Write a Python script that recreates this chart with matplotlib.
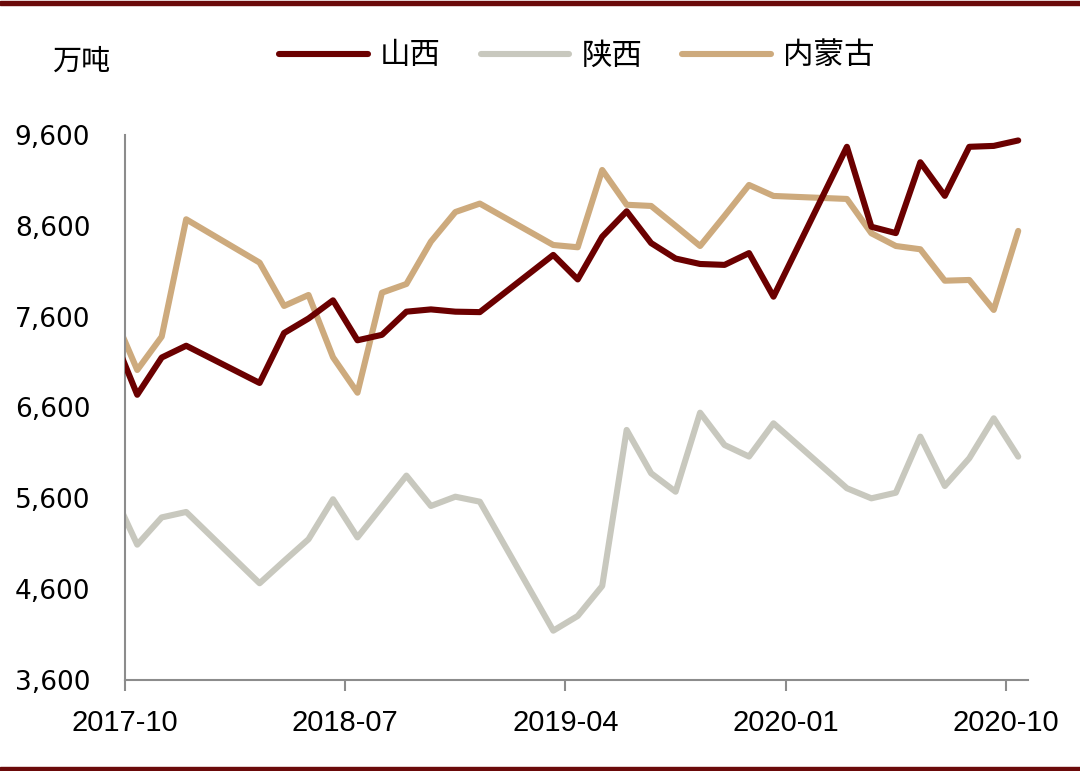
import matplotlib
matplotlib.use("Agg")
import matplotlib.pyplot as plt
from matplotlib.patches import Rectangle

plt.rcParams['font.family'] = ['Noto Sans CJK SC', 'DejaVu Sans']

# monthly data (Jan/Feb not published); first point sits just left of the axis
months = ['2017-09', '2017-10', '2017-11', '2017-12',
          '2018-03', '2018-04', '2018-05', '2018-06', '2018-07', '2018-08',
          '2018-09', '2018-10', '2018-11', '2018-12',
          '2019-03', '2019-04', '2019-05', '2019-06', '2019-07', '2019-08',
          '2019-09', '2019-10', '2019-11', '2019-12',
          '2020-03', '2020-04', '2020-05', '2020-06', '2020-07', '2020-08',
          '2020-09', '2020-10']

shanxi = [7400, 6740, 7150, 7280,
          6870, 7420, 7580, 7780, 7340, 7400, 7655, 7680, 7655, 7650,
          8280, 8010, 8480, 8760, 8410, 8240, 8180, 8170, 8300, 7820,
          9470, 8590, 8520, 9300, 8930, 9470, 9480, 9540]

shaanxi = [5670, 5090, 5390, 5450,
           4665, 4910, 5150, 5590, 5170, 5510, 5850, 5516, 5618, 5563,
           4143, 4305, 4635, 6353, 5876, 5673, 6543, 6187, 6060, 6426,
           5711, 5600, 5662, 6279, 5736, 6041, 6481, 6059]

neimenggu = [7640, 7013, 7380, 8672,
             8195, 7718, 7839, 7153, 6763, 7864, 7960, 8426, 8752, 8845,
             8389, 8364, 9215, 8832, 8819, 8600, 8378, 8710, 9050, 8929,
             8896, 8518, 8378, 8342, 7996, 8004, 7674, 8544]

xtick_labels = ['2017-10', '2018-07', '2019-04', '2020-01', '2020-10']
yticks = [3600, 4600, 5600, 6600, 7600, 8600, 9600]

def month_idx(s):
    y, m = s.split('-')
    return (int(y) - 2017) * 12 + int(m) - 10

x = [month_idx(m) + 0.5 for m in months]
xt = [month_idx(m) for m in xtick_labels]

fig = plt.figure(figsize=(10.8, 7.71), dpi=100)
ax = fig.add_axes([125/1080, 91/771, 903/1080, 545/771])

ax.plot(x, shanxi, color='#6b0000', lw=4.4, solid_capstyle='round', label='山西', zorder=3)
ax.plot(x, shaanxi, color='#c8c8be', lw=4.4, solid_capstyle='round', label='陕西', zorder=2)
ax.plot(x, neimenggu, color='#cdaa7d', lw=4.4, solid_capstyle='round', label='内蒙古', zorder=2)

ax.set_xlim(0, 36.9)
ax.set_ylim(3600, 9600)
ax.set_xticks(xt)
ax.set_xticklabels(xtick_labels, family='Liberation Sans', fontsize=21)
ax.set_yticks(yticks)
ax.set_yticklabels(['{:,}'.format(v) for v in yticks], family='DejaVu Sans', fontsize=19)
ax.tick_params(axis='x', length=8, width=1.5, color='#8c8c8c', pad=13)
ax.tick_params(axis='y', length=0, pad=25)

for s in ['top', 'right']:
    ax.spines[s].set_visible(False)
for s in ['left', 'bottom']:
    ax.spines[s].set_color('#8c8c8c')
    ax.spines[s].set_linewidth(1.5)

fig.legend(loc='center', bbox_to_anchor=(577/1080, 1 - 56/771), ncol=3, frameon=False,
           fontsize=22, handlelength=2.9, handletextpad=0.4, columnspacing=1.3)
fig.text(52/1080, 1 - 62/771, '万吨', fontsize=21, va='center', ha='left')

# dark red rules at top and bottom
fig.patches.append(Rectangle((0, 1 - 5/771), 1, 4/771, transform=fig.transFigure,
                             color='#6b0a0a', zorder=5))
fig.patches.append(Rectangle((0, 0), 1, 4/771, transform=fig.transFigure,
                             color='#6b0a0a', zorder=5))

fig.savefig('out.png', dpi=100)
